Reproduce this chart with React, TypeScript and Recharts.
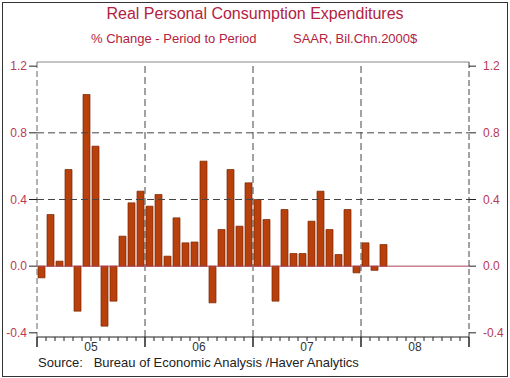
import React from "react";
import {
  BarChart,
  Bar,
  XAxis,
  YAxis,
  ReferenceLine,
} from "recharts";

// monthly % change, Jan 2005 .. Mar 2008
const pceChange = [
  -0.07, 0.31, 0.03, 0.58, -0.27, 1.03, 0.72, -0.36, -0.21, 0.18, 0.38, 0.45,
  0.36, 0.43, 0.06, 0.29, 0.14, 0.145, 0.63, -0.22, 0.22, 0.58, 0.24, 0.5,
  0.4, 0.28, -0.21, 0.34, 0.076, 0.076, 0.27, 0.45, 0.22, 0.07, 0.34, -0.04,
  0.14, -0.025, 0.13,
];
const yearLabels = ["05", "06", "07", "08"];
const yTicks = [-0.4, 0, 0.4, 0.8, 1.2];
const gridY = [0.4, 0.8];
const yearBreaks = [12, 24, 36];
const yDomain: [number, number] = [-0.425, 1.225];

const monthTicks = Array.from({ length: 49 }, (_, i) => i);

const data = pceChange.map((v, i) => ({ m: i + 0.5, value: v }));

const RED = "#B3223F";
const LABEL_RED = "#B83A55";
const FONT = "'Liberation Sans', Arial, sans-serif";

const MonthTick = (props: any) => {
  const { x, y, payload } = props;
  const v = payload.value;
  const major = v % 12 === 0;
  const label = v % 12 === 6 ? yearLabels[(v - 6) / 12] : null;
  return (
    <g>
      <line x1={x} x2={x} y1={y} y2={y + (major ? 10 : 4)} stroke="#222" strokeWidth={major ? 1.5 : 1} />
      {label && (
        <text x={x} y={y + 14} textAnchor="middle" fontSize={12} fill="#333" fontFamily={FONT}>
          {label}
        </text>
      )}
    </g>
  );
};

const App: React.FC = () => {
  return (
    <div
      style={{
        position: "absolute",
        left: 0,
        top: 0,
        width: 510,
        height: 378,
        background: "#fff",
        fontFamily: FONT,
      }}
    >
      <div
        style={{
          position: "absolute",
          left: 2,
          top: 2,
          width: 504,
          height: 373,
          border: "1px solid #333",
          pointerEvents: "none",
        }}
      />
      <div style={{ position: "absolute", left: 0, top: 5, width: 510, textAlign: "center", color: RED, fontSize: 16 }}>
        Real Personal Consumption Expenditures
      </div>
      <div style={{ position: "absolute", left: 91, top: 31, color: RED, fontSize: 13 }}>
        % Change - Period to Period
      </div>
      <div style={{ position: "absolute", left: 293, top: 31, color: RED, fontSize: 13 }}>
        SAAR, Bil.Chn.2000$
      </div>
      <div style={{ position: "absolute", left: 38, top: 356, color: "#222", fontSize: 13, lineHeight: "14px" }}>
        Source:&nbsp;&nbsp; Bureau of Economic Analysis /Haver Analytics
      </div>
      <div style={{ position: "absolute", left: 0, top: 0 }}>
        <BarChart
          width={510}
          height={378}
          data={data}
          margin={{ top: 62, right: 0, bottom: 0, left: 0 }}
        >
          <XAxis
            dataKey="m"
            type="number"
            domain={[0, 48]}
            ticks={monthTicks}
            interval={0}
            height={41}
            tickSize={0}
            tickMargin={0}
            tickLine={false}
            tick={<MonthTick />}
            axisLine={{ stroke: "#222" }}
          />
          <YAxis
            yAxisId="left"
            orientation="left"
            width={37}
            domain={yDomain}
            ticks={yTicks}
            allowDataOverflow
            tickSize={8}
            tickMargin={2}
            tickFormatter={(v: number) => v.toFixed(1)}
            tick={{ fill: LABEL_RED, fontSize: 12, fontFamily: FONT }}
            tickLine={{ stroke: "#222" }}
            axisLine={{ stroke: "#666", strokeDasharray: "6 3" }}
          />
          <YAxis
            yAxisId="right"
            orientation="right"
            width={41}
            domain={yDomain}
            ticks={yTicks}
            allowDataOverflow
            tickSize={7}
            tickMargin={7}
            tickFormatter={(v: number) => v.toFixed(1)}
            tick={{ fill: LABEL_RED, fontSize: 12, fontFamily: FONT }}
            tickLine={{ stroke: "#222" }}
            axisLine={{ stroke: "#444", strokeDasharray: "6 3" }}
          />
          {gridY.map((g) => (
            <ReferenceLine key={g} yAxisId="left" y={g} stroke="#444" strokeDasharray="7 4" />
          ))}
          {yearBreaks.map((b) => (
            <ReferenceLine key={b} yAxisId="left" x={b} stroke="#444" strokeDasharray="7 4" />
          ))}
          <ReferenceLine yAxisId="left" y={yDomain[1]} stroke="#888" />
          <Bar
            yAxisId="left"
            dataKey="value"
            barSize={7}
            fill="#B8400C"
            stroke="#7A2600"
            strokeWidth={0.7}
            isAnimationActive={false}
          />
          <ReferenceLine yAxisId="left" y={0} stroke="#B04055" strokeWidth={1} />
        </BarChart>
      </div>
    </div>
  );
};

export default App;
